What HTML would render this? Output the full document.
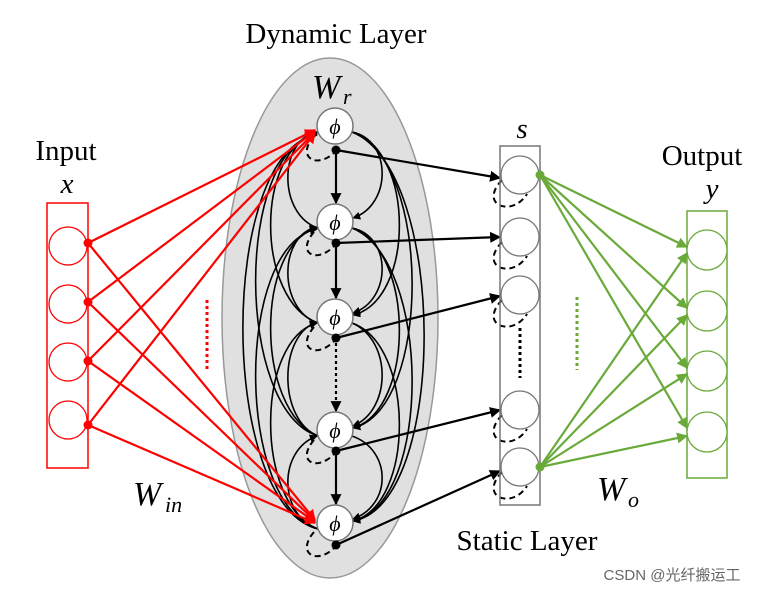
<!DOCTYPE html>
<html><head><meta charset="utf-8"><style>
html,body{margin:0;padding:0;background:#fff;width:773px;height:593px;overflow:hidden}
text{font-family:"Liberation Serif",serif}
</style></head><body>
<svg width="773" height="593" viewBox="0 0 773 593" xmlns="http://www.w3.org/2000/svg">
<defs>
<marker id="ak" viewBox="0 0 10 10" refX="9" refY="5" markerWidth="5" markerHeight="5" orient="auto"><path d="M0,0L10,5L0,10z" fill="#000"/></marker>
<marker id="ar" viewBox="0 0 10 10" refX="9" refY="5" markerWidth="5" markerHeight="5" orient="auto"><path d="M0,0L10,5L0,10z" fill="#f00"/></marker>
<marker id="ag" viewBox="0 0 10 10" refX="9" refY="5" markerWidth="5" markerHeight="5" orient="auto"><path d="M0,0L10,5L0,10z" fill="#6aaa3a"/></marker>
</defs>
<ellipse cx="330" cy="318" rx="108" ry="260" fill="#e0e0e0" stroke="#999" stroke-width="1.5"/>
<text x="336" y="43" font-size="29" text-anchor="middle">Dynamic Layer</text>
<text x="312" y="98" font-size="34" font-style="italic">W</text><text x="343" y="104" font-size="22" font-style="italic">r</text>
<text x="66" y="160" font-size="29" text-anchor="middle">Input</text>
<text x="67" y="193" font-size="29" font-style="italic" text-anchor="middle">x</text>
<text x="522" y="138" font-size="29" font-style="italic" text-anchor="middle">s</text>
<text x="702" y="165" font-size="29" text-anchor="middle">Output</text>
<text x="712" y="198" font-size="29" font-style="italic" text-anchor="middle">y</text>
<text x="133" y="505" font-size="34" font-style="italic">W</text><text x="165" y="512" font-size="22" font-style="italic">in</text>
<text x="597" y="500" font-size="34" font-style="italic">W</text><text x="628" y="507" font-size="22" font-style="italic">o</text>
<text x="527" y="550" font-size="29" text-anchor="middle">Static Layer</text>
<text x="672" y="580" font-size="15" fill="#666" text-anchor="middle" style="font-family:'Liberation Sans','Noto Sans CJK SC',sans-serif">CSDN @光纤搬运工</text>

<g fill="none" stroke="#000" stroke-width="1.6" marker-end="url(#ak)">
<path d="M352,132 C392,140 392,205 353,218"/>
<path d="M352,228 C392,236 392,300 353,313"/>
<path d="M352,323 C392,340 392,410 353,426"/>
<path d="M352,436 C392,450 392,505 353,519"/>
<path d="M352,132 C415,150 415,300 353,315"/>
<path d="M352,228 C415,250 415,410 353,428"/>
<path d="M352,323 C415,345 415,505 353,521"/>
<path d="M352,132 C432,160 432,410 353,428"/>
<path d="M352,228 C432,260 432,505 353,521"/>
<path d="M352,132 C448,170 448,505 353,521"/>
<path d="M318,228 C278,215 278,140 317,132"/>
<path d="M318,323 C278,310 278,235 317,227"/>
<path d="M318,436 C278,420 278,335 317,322"/>
<path d="M318,529 C278,515 278,450 317,436"/>
<path d="M318,323 C255,300 255,150 317,133"/>
<path d="M318,436 C255,410 255,245 317,228"/>
<path d="M318,529 C255,505 255,340 317,323"/>
<path d="M318,436 C235,410 235,150 317,134"/>
<path d="M318,529 C235,505 235,245 317,229"/>
<path d="M318,529 C218,505 218,150 317,135"/>
</g>
<g stroke="#000" stroke-width="2.2" marker-end="url(#ak)">
<line x1="336" y1="150" x2="336" y2="203"/>
<line x1="336" y1="243" x2="336" y2="298"/>
<line x1="336" y1="337" x2="336" y2="411" stroke-dasharray="3,3"/>
<line x1="336" y1="450" x2="336" y2="504"/>
</g>
<g fill="none" stroke="#000" stroke-width="2" stroke-dasharray="6,4">
<path d="M314,136 C295,158 318,170 336,151"/>
<path d="M314,232 C295,254 318,265 336,244"/>
<path d="M314,327 C295,349 318,360 336,339"/>
<path d="M314,440 C295,462 318,473 336,452"/>
<path d="M314,532 C295,554 318,566 336,546"/>
<path d="M502,180 C478,205 512,218 527,194"/>
<path d="M502,242 C478,267 512,280 527,256"/>
<path d="M502,300 C478,325 512,338 527,314"/>
<path d="M502,415 C478,440 512,453 527,429"/>
<path d="M502,472 C478,497 512,510 527,486"/>
</g>
<g fill="#fff" stroke="#777" stroke-width="1.5">
<circle cx="335" cy="126" r="18"/><circle cx="335" cy="222" r="18"/><circle cx="335" cy="317" r="18"/><circle cx="335" cy="430" r="18"/><circle cx="335" cy="523" r="18"/>
</g>
<g font-size="22" font-style="italic" text-anchor="middle">
<text x="335" y="134">ϕ</text><text x="335" y="230">ϕ</text><text x="335" y="325">ϕ</text><text x="335" y="438">ϕ</text><text x="335" y="531">ϕ</text>
</g>
<g stroke="#000" stroke-width="2.2" marker-end="url(#ak)">
<line x1="336" y1="150" x2="500" y2="178"/>
<line x1="336" y1="243" x2="500" y2="237"/>
<line x1="336" y1="338" x2="500" y2="296"/>
<line x1="336" y1="451" x2="500" y2="410"/>
<line x1="336" y1="545" x2="500" y2="471"/>
</g>
<g fill="#000"><circle cx="336" cy="150" r="4.5"/><circle cx="336" cy="243" r="4.5"/><circle cx="336" cy="338" r="4.5"/><circle cx="336" cy="451" r="4.5"/><circle cx="336" cy="545" r="4.5"/></g>
<rect x="47" y="203" width="41" height="265" fill="#fff" stroke="#f00" stroke-width="1.5"/>
<g fill="#fff" stroke="#f00" stroke-width="1.3"><circle cx="68" cy="246" r="19"/><circle cx="68" cy="304" r="19"/><circle cx="68" cy="362" r="19"/><circle cx="68" cy="420" r="19"/></g>
<g stroke="#f00" stroke-width="2.2" marker-end="url(#ar)">
<line x1="88" y1="243" x2="315" y2="130"/><line x1="88" y1="302" x2="315" y2="131"/><line x1="88" y1="361" x2="315" y2="132"/><line x1="88" y1="425" x2="315" y2="133"/>
<line x1="88" y1="243" x2="315" y2="520"/><line x1="88" y1="302" x2="315" y2="521"/><line x1="88" y1="361" x2="315" y2="522"/><line x1="88" y1="425" x2="315" y2="523"/>
</g>
<g fill="#f00"><circle cx="88" cy="243" r="4.5"/><circle cx="88" cy="302" r="4.5"/><circle cx="88" cy="361" r="4.5"/><circle cx="88" cy="425" r="4.5"/></g>
<line x1="207" y1="300" x2="207" y2="372" stroke="#f00" stroke-width="3" stroke-dasharray="3,3"/>
<rect x="500" y="146" width="40" height="359" fill="none" stroke="#777" stroke-width="1.5"/>
<g fill="#fff" stroke="#777" stroke-width="1.3"><circle cx="520" cy="175" r="19"/><circle cx="520" cy="237" r="19"/><circle cx="520" cy="295" r="19"/><circle cx="520" cy="410" r="19"/><circle cx="520" cy="467" r="19"/></g>
<line x1="520" y1="328" x2="520" y2="378" stroke="#000" stroke-width="3" stroke-dasharray="3,3"/>
<line x1="577" y1="297" x2="577" y2="370" stroke="#6aaa3a" stroke-width="3" stroke-dasharray="3,3"/>
<rect x="687" y="211" width="40" height="267" fill="#fff" stroke="#6aaa3a" stroke-width="1.5"/>
<g fill="#fff" stroke="#6aaa3a" stroke-width="1.3"><circle cx="707" cy="250" r="20"/><circle cx="707" cy="311" r="20"/><circle cx="707" cy="371" r="20"/><circle cx="707" cy="432" r="20"/></g>
<g stroke="#6aaa3a" stroke-width="2.2" marker-end="url(#ag)">
<line x1="540" y1="175" x2="687" y2="247"/><line x1="540" y1="175" x2="687" y2="308"/><line x1="540" y1="175" x2="687" y2="368"/><line x1="540" y1="175" x2="687" y2="428"/>
<line x1="540" y1="467" x2="687" y2="253"/><line x1="540" y1="467" x2="687" y2="315"/><line x1="540" y1="467" x2="687" y2="374"/><line x1="540" y1="467" x2="687" y2="436"/>
</g>
<g fill="#6aaa3a"><circle cx="540" cy="175" r="4.5"/><circle cx="540" cy="467" r="4.5"/></g>
</svg>
</body></html>
